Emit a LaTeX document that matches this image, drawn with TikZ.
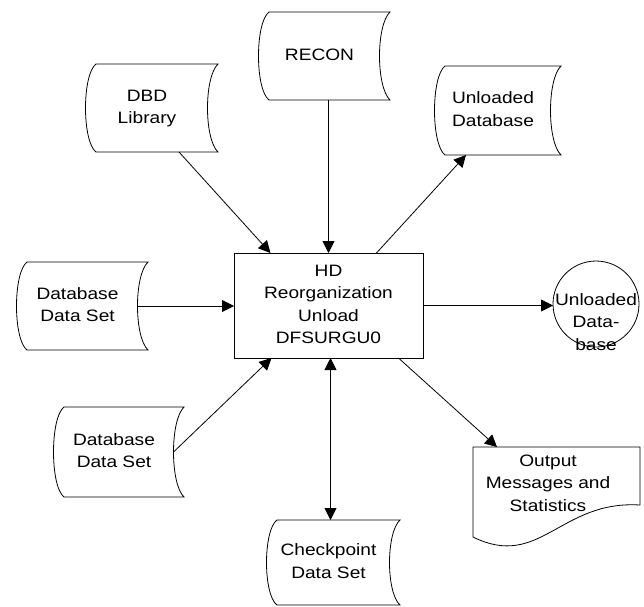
\documentclass[tikz,border=0pt]{standalone}
\usepackage{fontspec}
\setmainfont{Liberation Sans}
\usetikzlibrary{arrows.meta,calc}

% Labels are set a little wider than the font's natural proportions.
\newcommand\widetext[1]{\scalebox{1.16}[1]{\begin{tabular}{@{}c@{}}#1\end{tabular}}}

% Disk data set: flat top and bottom, convex left side, concave right side.
% #1 name, #2 left, #3 top, #4 right, #5 bottom, #6 text
\newcommand\dasdshape[6]{%
  \draw[shapeline]
    ({#2+12},{#3}) -- ({#4},{#3})
    .. controls ({#4-14},{#3+0.15*(#5-#3)}) and ({#4-14},{#5-0.15*(#5-#3)}) .. ({#4},{#5})
    -- ({#2+12},{#5})
    .. controls ({#2-2},{#5-0.12*(#5-#3)}) and ({#2-2},{#3+0.12*(#5-#3)}) .. ({#2+12},{#3}) -- cycle;
  \node[frame, minimum width={(#4-#2)*1pt}, minimum height={(#5-#3)*1pt}]
    (#1) at ({(#2+#4)/2},{(#3+#5)/2}) {};
  \coordinate (#1-in) at ({#4-10.5},{(#3+#5)/2});
  \node[txt] (#1-t) at ({(#2+#4)/2-4},{(#3+#5)/2}) {\widetext{#6}};
}

\begin{document}
\begin{tikzpicture}[x=1pt,y=-1pt,
  shapeline/.style={draw=black, line width=0.8pt},
  frame/.style={inner sep=0pt, outer sep=0pt, draw=none},
  txt/.style={align=center, inner sep=0pt, font=\fontsize{16.5pt}{22.5pt}\selectfont},
  proc/.style={draw=black, line width=0.8pt, inner sep=0pt, outer sep=0pt},
  tip/.style={Triangle[length=12pt,width=12pt]},
  flow/.style={line width=0.8pt, -{Triangle[length=12pt,width=12pt]}},
  flowboth/.style={line width=0.8pt, {Triangle[length=12pt,width=12pt]}-{Triangle[length=12pt,width=12pt]}}
]
\useasboundingbox (0,0) rectangle (644,606);

% central program box
\node[proc, minimum width=189pt, minimum height=105pt] (box) at (328.5,305.5) {};
\node[txt] (box-t) at (328.5,305.5) {\widetext{HD\\Reorganization\\Unload\\DFSURGU0}};

% input and output data sets
\dasdshape{recon}{257}{12}{390}{100}{RECON}
\dasdshape{dbd}{84}{64}{218}{152}{DBD\\Library}
\dasdshape{udb}{433}{66}{561}{155}{Unloaded\\Database}
\dasdshape{dds1}{15}{262}{148}{350}{Database\\Data Set}
\dasdshape{dds2}{52}{407}{184}{497}{Database\\Data Set}
\dasdshape{ckpt}{265}{520}{400}{605}{Checkpoint\\Data Set}

% unloaded database on tape (circle)
\node[proc, circle, minimum size=86pt] (ucirc) at (596,304) {};
\node[txt] (ucirc-t) at (596,323) {\widetext{Unloaded\\Data-\\base}};

% printed output (document shape)
\draw[shapeline] (473,447) -- (640,447) -- (640,505)
  .. controls (560,500) and (540,570) .. (473,537) -- cycle;
\node[frame, minimum width=167pt, minimum height=98pt] (out) at (556.5,496) {};
\node[txt] (out-t) at (548,484) {\widetext{Output\\Messages and\\Statistics}};

% data flow
\draw[flow] (recon.south -| box.north) -- (box.north);
\draw[flow] ([xshift=28pt]dbd.south) -- ([xshift=-58pt]box.north);
\draw[flow] ([xshift=48pt]box.north) -- ([xshift=-31pt]udb.south);
\draw[flow] (dds1-in) -- (dds1-in -| box.west);
\draw[flow] (dds2-in) -- ([xshift=-57pt]box.south);
\draw[flow] (box.east) -- (box.east -| ucirc.west);
\draw[flow] ([xshift=70pt]box.south) -- ([xshift=24pt]out.north west);
\draw[flowboth] ([xshift=2pt]box.south) -- ([xshift=2pt]box.south |- ckpt.north);
\end{tikzpicture}
\end{document}
